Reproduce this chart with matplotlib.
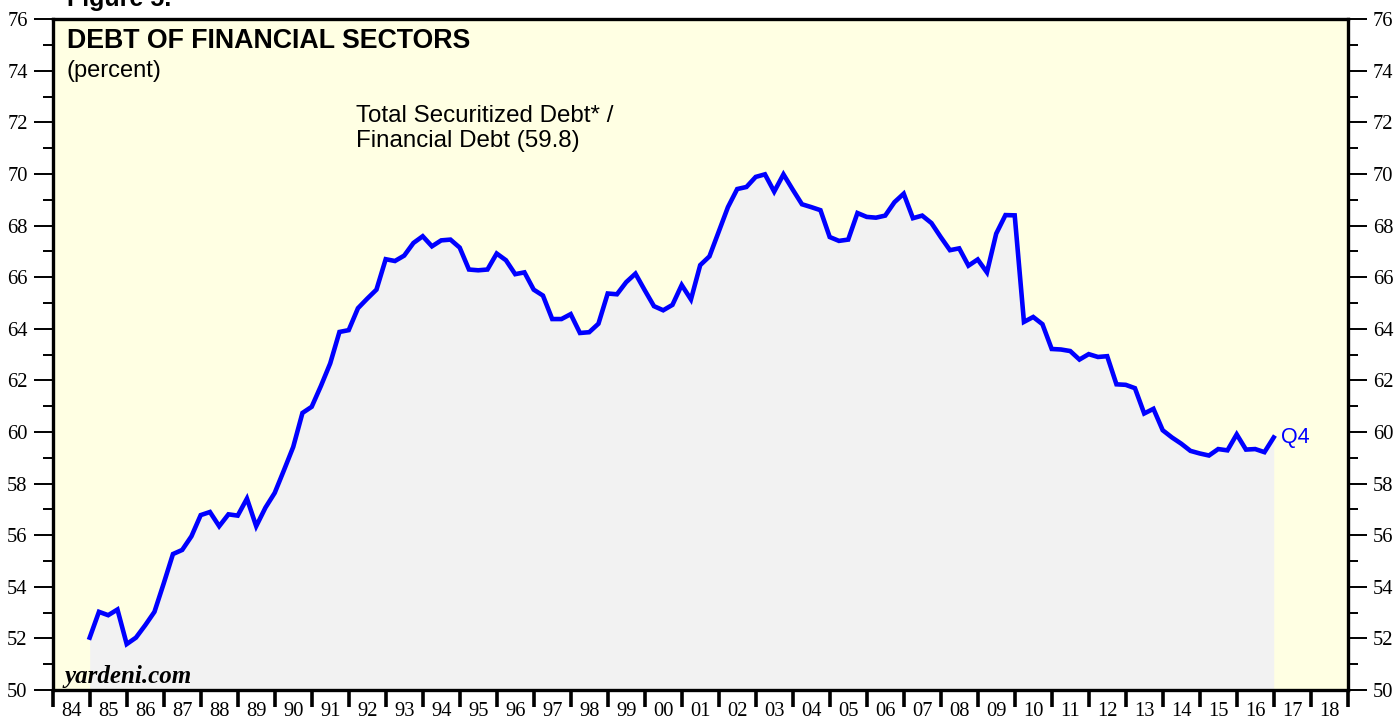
import matplotlib
matplotlib.use("Agg")
import matplotlib.pyplot as plt
from matplotlib.ticker import MultipleLocator, FixedLocator, NullFormatter, FixedFormatter
import numpy as np

# Quarterly data, 1984Q4 .. 2016Q4 (plotted at end of quarter)
first_year, first_quarter = 1984, 4
values = [
    52.03, 53.03, 52.90, 53.12, 51.78, 52.03, 52.51, 53.03, 54.13, 55.27,
    55.43, 55.96, 56.78, 56.90, 56.35, 56.81, 56.76, 57.42, 56.35, 57.07,
    57.64, 58.52, 59.42, 60.74, 60.98, 61.79, 62.66, 63.88, 63.95, 64.80,
    65.17, 65.52, 66.70, 66.63, 66.84, 67.33, 67.59, 67.20, 67.43, 67.46,
    67.15, 66.30, 66.27, 66.30, 66.92, 66.66, 66.12, 66.19, 65.52, 65.29,
    64.38, 64.38, 64.57, 63.84, 63.87, 64.20, 65.37, 65.34, 65.81, 66.14,
    65.50, 64.88, 64.72, 64.93, 65.70, 65.14, 66.47, 66.81, 67.76, 68.72,
    69.42, 69.50, 69.89, 69.99, 69.32, 69.99, 69.40, 68.83, 68.72, 68.60,
    67.56, 67.41, 67.46, 68.49, 68.34, 68.31, 68.39, 68.91, 69.24, 68.29,
    68.39, 68.10, 67.56, 67.05, 67.12, 66.45, 66.69, 66.19, 67.69, 68.41,
    68.40, 64.27, 64.46, 64.18, 63.22, 63.20, 63.14, 62.81, 63.02, 62.91,
    62.94, 61.85, 61.83, 61.70, 60.72, 60.90, 60.07, 59.79, 59.55, 59.27,
    59.17, 59.09, 59.34, 59.29, 59.91, 59.32, 59.34, 59.22, 59.79,
]
year_labels = ["84", "85", "86", "87", "88", "89", "90", "91", "92", "93", "94",
               "95", "96", "97", "98", "99", "00", "01", "02", "03", "04", "05",
               "06", "07", "08", "09", "10", "11", "12", "13", "14", "15", "16",
               "17", "18"]
x_start, x_end = 1984, 2019
y_min, y_max = 50, 76
title = "DEBT OF FINANCIAL SECTORS"
subtitle = "(percent)"
series_label = "Total Securitized Debt* /\nFinancial Debt (59.8)"
last_label = "Q4"

# end-of-quarter positions
xs = np.array([first_year + first_quarter / 4 + 0.25 * i for i in range(len(values))])
vals = np.array(values)

W, H = 1396, 719
fig = plt.figure(figsize=(W / 100, H / 100), dpi=100)
fig.patch.set_facecolor("white")
L, R, B, T = 52.7, 1347.7, 690.0, 19.3
ax = fig.add_axes([L / W, 1 - B / H, (R - L) / W, (B - T) / H])
ax.set_facecolor("#FFFFE3")

ax.fill_between(xs, vals, y_min, color="#F2F2F2", linewidth=0, zorder=1)
ax.plot(xs, vals, color="#0000FF", linewidth=3.3, solid_joinstyle="miter", zorder=3)

ax.set_xlim(x_start, x_end)
ax.set_ylim(y_min, y_max)

for s in ax.spines.values():
    s.set_linewidth(2.4)
    s.set_color("black")

serif = "Liberation Serif"
sans = "Liberation Sans"

# y axis both sides
ax.yaxis.set_major_locator(MultipleLocator(2))
ax.yaxis.set_minor_locator(MultipleLocator(1))
ax.tick_params(axis="y", which="major", direction="out", length=14, width=1.4,
               left=True, right=True, labelleft=True, labelright=True, pad=4,
               labelsize=14.8)
ax.tick_params(axis="y", which="minor", direction="out", length=7, width=1.4,
               left=True, right=True)
for lab in ax.yaxis.get_ticklabels(which="both"):
    lab.set_fontfamily(serif)

# x axis: ticks at year boundaries, labels at mid-year
ax.xaxis.set_major_locator(FixedLocator(list(range(x_start, x_end + 1))))
ax.xaxis.set_major_formatter(NullFormatter())
ax.xaxis.set_minor_locator(FixedLocator([x_start + i + 0.5 for i in range(len(year_labels))]))
ax.xaxis.set_minor_formatter(FixedFormatter(year_labels))
ax.tick_params(axis="x", which="major", direction="out", length=12, width=2.6)
ax.tick_params(axis="x", which="minor", length=0, pad=9.0, labelsize=14.8)
for lab in ax.xaxis.get_ticklabels(which="minor"):
    lab.set_fontfamily(serif)

# texts
def fx(px):
    return px / W

def fy(py):
    return 1 - py / H

fig.text(fx(67), fy(6), "Figure 5.", fontsize=18, fontweight="bold",
         family=sans, ha="left", va="baseline")
fig.text(fx(67), fy(48), title, fontsize=19.3, fontweight="bold",
         family=sans, ha="left", va="baseline")
fig.text(fx(67), fy(77), subtitle, fontsize=17, family=sans,
         ha="left", va="baseline")
fig.text(fx(356), fy(105), series_label, fontsize=17.4, family=sans,
         ha="left", va="top", linespacing=1.17)
ax.text(xs[-1] + 0.2, vals[-1], last_label, color="#0000FF", fontsize=15.5,
        family=sans, ha="left", va="center")
fig.text(fx(64), fy(683), "yardeni.com", fontsize=18, fontweight="bold",
         fontstyle="italic", family=serif, ha="left", va="baseline")

fig.savefig("out.png", dpi=100)
